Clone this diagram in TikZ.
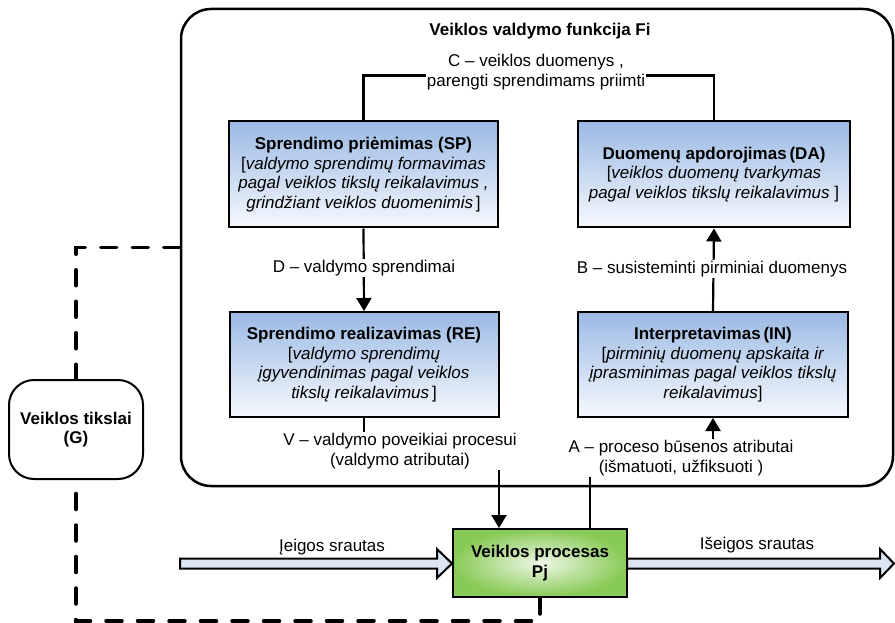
\documentclass[tikz,border=0pt]{standalone}
\usepackage{fontspec}
\setmainfont{Liberation Sans}
\usetikzlibrary{arrows.meta,calc}
\definecolor{boxtop}{RGB}{155,185,228}
\definecolor{boxbot}{RGB}{246,249,253}
\definecolor{pjout}{RGB}{136,202,86}
\definecolor{pjin}{RGB}{238,247,230}
\definecolor{flowfill}{RGB}{220,230,242}
\begin{document}
\begin{tikzpicture}[x=1pt,y=-1pt,
  every node/.style={font=\fontsize{17}{19.5}\selectfont, align=center, inner sep=0pt},
  bluebox/.style={draw=black, line width=2pt, top color=boxtop, bottom color=boxbot,
    minimum width=269pt, minimum height=106pt},
  bold/.style={font=\fontsize{17}{19.5}\selectfont\bfseries},
  lbl/.style={fill=white, inner sep=1pt},
  conn/.style={draw=black, line width=2.2pt},
  arr/.style={conn, -{Triangle[length=13pt,width=15pt]}},
  dashline/.style={draw=black, line width=3.5pt, line cap=round, dash pattern=on 16pt off 15.5pt},
  flow/.style={draw=black, line width=2pt, fill=flowfill, line join=miter},
]
\useasboundingbox (0,0) rectangle (895,623);

% container
\node[draw, line width=2.5pt, rounded corners=30pt, minimum width=712pt, minimum height=477pt] (Fi) at (537,247.5) {};
\node[bold] (title) at (540,31) {Veiklos valdymo funkcija Fi};

% boxes
\node[bluebox] (SP) at (363.5,174.5) {{\bfseries Sprendimo priėmimas (SP)}\\
  {[}\textit{valdymo sprendimų formavimas}\\
  \textit{pagal veiklos tikslų reikalavimus ,}\\
  \textit{grindžiant veiklos duomenimis}\,]};
\node[bluebox, minimum width=272pt] (DA) at (714,174.5) {{\bfseries Duomenų apdorojimas\,(DA)}\\
  {[}\textit{veiklos duomenų tvarkymas}\\
  \textit{pagal veiklos tikslų reikalavimus} ]};
\node[bluebox, minimum height=105pt] (RE) at (364,364.5) {{\bfseries Sprendimo realizavimas (RE)}\\
  {[}\textit{valdymo sprendimų}\\
  \textit{įgyvendinimas pagal veiklos}\\
  \textit{tikslų reikalavimus}\,]};
\node[bluebox, minimum width=270pt, minimum height=105pt] (IN) at (713,364.5) {{\bfseries Interpretavimas\,(IN)}\\
  {[}\textit{pirminių duomenų apskaita ir}\\
  \textit{įprasminimas pagal veiklos tikslų}\\
  \textit{reikalavimus}]};

\node[draw, line width=2pt, rounded corners=25pt, minimum width=134pt, minimum height=99pt, bold] (G) at (76,429.5) {Veiklos tikslai\\(G)};

\node[draw, line width=2pt, inner color=pjin, outer color=pjout, minimum width=174pt, minimum height=68pt, bold] (Pj) at (540,563) {Veiklos procesas\\Pj};

\coordinate (vIn) at ($(Pj.north west)+(47,0)$);
\coordinate (aOut) at ($(Pj.north west)+(138,0)$);

% connectors
\draw[conn] (SP.north) -- ++(0,-45) -| (DA.north);
\draw[arr] (SP.south) -- (RE.north);
\draw[arr] (IN.north) -- (DA.south);
\draw[arr] (RE.south) -- ++(0,33) -| (vIn);
\draw[arr] (aOut) -- ++(0,-78) -| (IN.south);

% dashed goal links
\draw[dashline] (Fi.west) -| (G.north);
\draw[dashline] (Pj.south) -- (540,621) -| (G.south);

% flows
\coordinate (inS) at (180,563.5);
\coordinate (outE) at (894,563.5);
\draw[flow] ($(inS)+(0,-5)$) -- (437,558.5) -- (437,549) -- (452,563.5) -- (437,578) -- (437,568.5) -- ($(inS)+(0,5)$) -- cycle;
\draw[flow] (627,558.5) -- (880,558.5) -- (880,549) -- (outE) -- (880,578) -- (880,568.5) -- (627,568.5) -- cycle;

% labels
\node[lbl] (lC) at (536,72) {C – veiklos duomenys ,\\parengti sprendimams priimti};
\node[lbl] (lD) at (364,268) {D – valdymo sprendimai};
\node[lbl] (lB) at (712,269) {B – susisteminti pirminiai duomenys};
\node[lbl] (lV) at (400,451) {V – valdymo poveikiai procesui\\(valdymo atributai)};
\node[lbl] (lA) at (681,458) {A – proceso būsenos atributai\\(išmatuoti, užfiksuoti )};
\node (lIn) at (332,547) {Įeigos srautas};
\node (lOut) at (757,545) {Išeigos srautas};
\end{tikzpicture}
\end{document}
